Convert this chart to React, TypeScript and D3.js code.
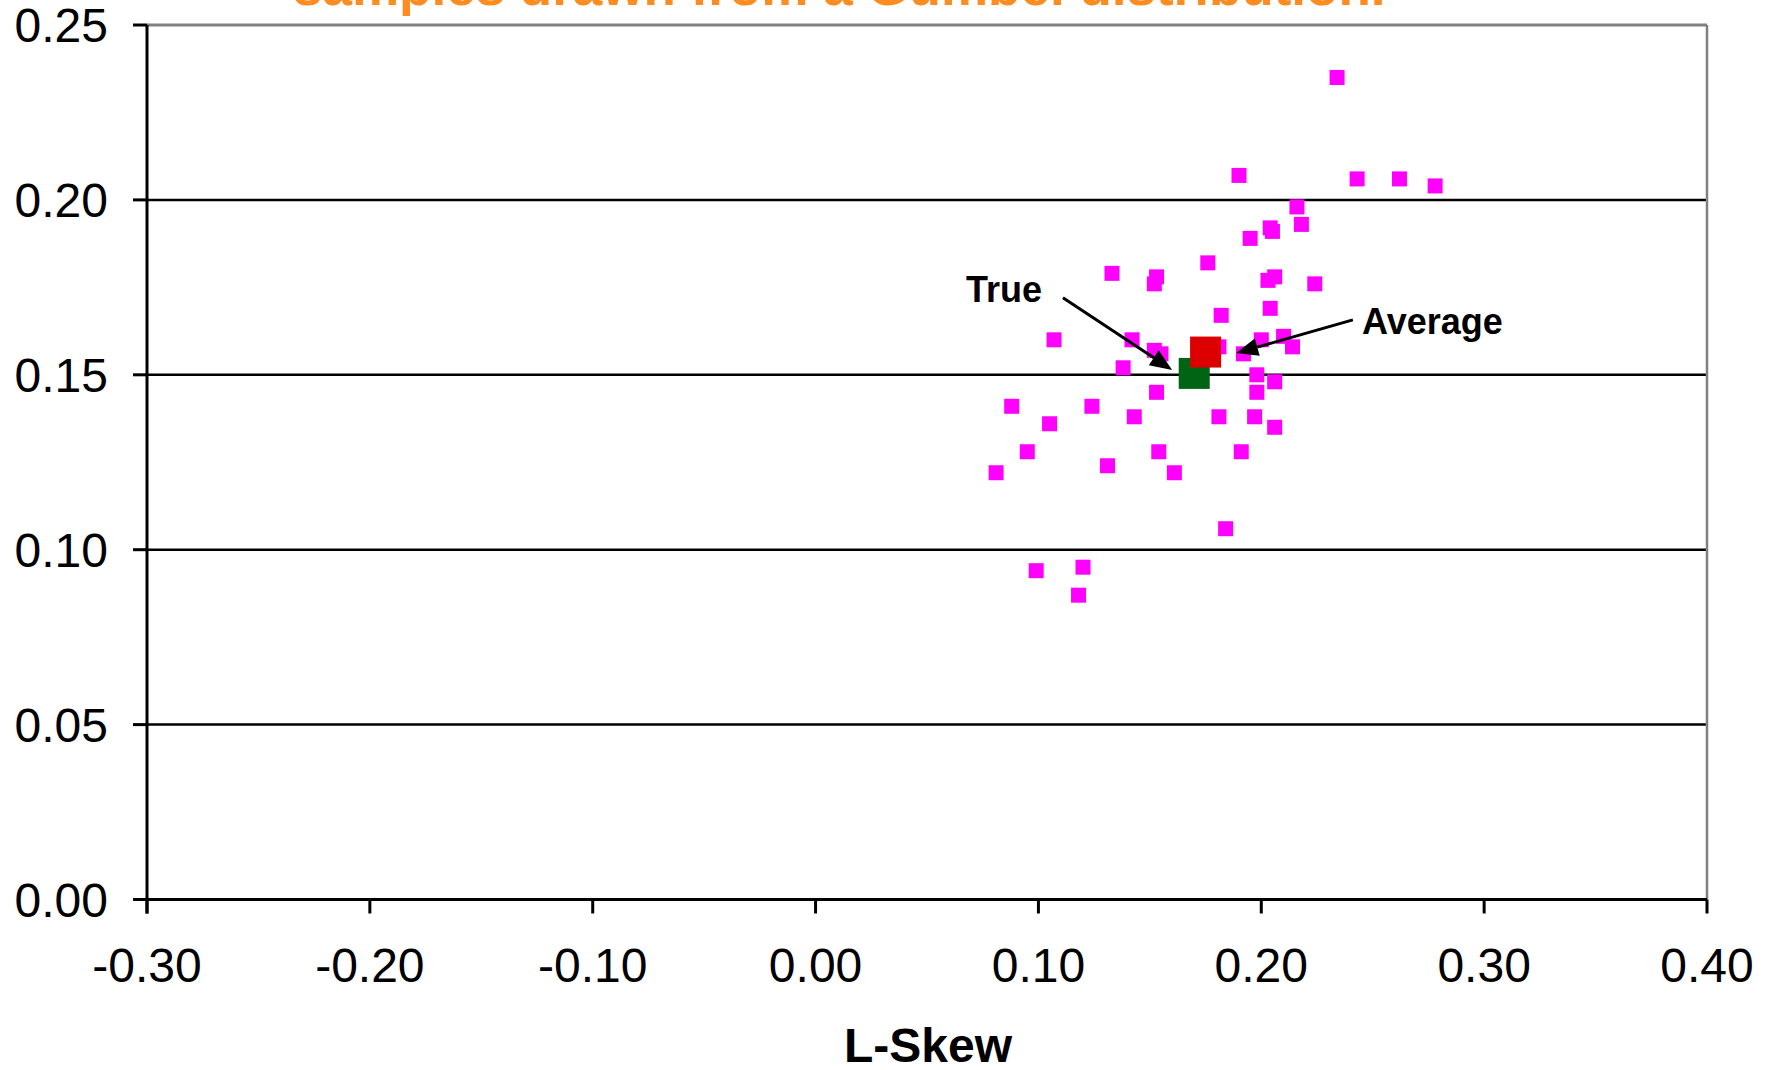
import React from "react";
import * as d3 from "d3";

const W = 1774;
const H = 1070;

const titleText = "samples drawn from a Gumbel distribution.";
const xLabel = "L-Skew";
const xTicks = [-0.3, -0.2, -0.1, 0.0, 0.1, 0.2, 0.3, 0.4];
const yTicks = [0.0, 0.05, 0.1, 0.15, 0.2, 0.25];

// sample L-skew values
const sampleSkew = [
  0.234, 0.190, 0.243, 0.262, 0.278, 0.216, 0.204, 0.205, 0.218, 0.195,
  0.176, 0.133, 0.153, 0.152, 0.203, 0.206, 0.224, 0.204, 0.182, 0.107,
  0.142, 0.200, 0.210, 0.214, 0.152, 0.155, 0.181, 0.192, 0.138, 0.198,
  0.206, 0.198, 0.153, 0.088, 0.124, 0.105, 0.143, 0.181, 0.197, 0.206,
  0.095, 0.154, 0.191, 0.131, 0.161, 0.081, 0.184, 0.099, 0.120, 0.118,
];
// sample L-kurtosis values
const sampleKurt = [
  0.235, 0.207, 0.206, 0.206, 0.204, 0.198, 0.192, 0.191, 0.193, 0.189,
  0.182, 0.179, 0.178, 0.176, 0.177, 0.178, 0.176, 0.169, 0.167, 0.160,
  0.160, 0.160, 0.161, 0.158, 0.157, 0.156, 0.158, 0.156, 0.152, 0.150,
  0.148, 0.145, 0.145, 0.141, 0.141, 0.136, 0.138, 0.138, 0.138, 0.135,
  0.128, 0.128, 0.128, 0.124, 0.122, 0.122, 0.106, 0.094, 0.095, 0.087,
];

const truePoint = [0.1699, 0.1504];
const avgPoint = [0.1750, 0.1565];

// annotations in data units: label anchor, arrow start, arrow tip
const annTrue = { label: "True", lx: 0.0846, ly: 0.1708, x1: 0.111, y1: 0.172, x2: 0.160, y2: 0.1514 };
const annAvg = { label: "Average", lx: 0.2452, ly: 0.1617, x1: 0.2411, y1: 0.1657, x2: 0.1887, y2: 0.1562 };

const left = 147;
const right = 1707;
const top = 25;
const bottom = 899.5;

function Arrow({ x1, y1, x2, y2 }: { x1: number; y1: number; x2: number; y2: number }) {
  const ang = Math.atan2(y2 - y1, x2 - x1);
  const len = 22;
  const half = 9;
  const bx = x2 - len * Math.cos(ang);
  const by = y2 - len * Math.sin(ang);
  const px = -Math.sin(ang) * half;
  const py = Math.cos(ang) * half;
  return (
    <g>
      <line x1={x1} y1={y1} x2={bx} y2={by} stroke="#000" strokeWidth={3} />
      <polygon points={`${x2},${y2} ${bx + px},${by + py} ${bx - px},${by - py}`} fill="#000" />
    </g>
  );
}

export default function App() {
  const x = d3.scaleLinear().domain([-0.3, 0.4]).range([left, right]);
  const y = d3.scaleLinear().domain([0, 0.25]).range([bottom, top]);
  const fmt = (v: number) => d3.format(".2f")(v).replace("\u2212", "-");
  const font = "'Liberation Sans', Arial, sans-serif";
  const ms = 15;
  const bs = 31;

  return (
    <svg width={W} height={H} style={{ position: "absolute", left: 0, top: 0, background: "#fff" }} fontFamily={font}>
      <rect x={0} y={0} width={W} height={H} fill="#fff" />
      {/* title */}
      <text x={293} y={5} fontSize={53} fontWeight="bold" fill="#FF8C21">{titleText}</text>

      {/* gridlines */}
      {yTicks.filter((t) => t > 0 && t < 0.25).map((t) => (
        <line key={t} x1={left} x2={right} y1={y(t)} y2={y(t)} stroke="#000" strokeWidth={2.5} />
      ))}
      {/* top and right border */}
      <line x1={left} x2={right} y1={y(0.25)} y2={y(0.25)} stroke="#808080" strokeWidth={3} />
      <line x1={right} x2={right} y1={top} y2={bottom} stroke="#808080" strokeWidth={2.5} />

      {/* axes */}
      <line x1={left} x2={right} y1={bottom} y2={bottom} stroke="#000" strokeWidth={3} />
      <line x1={left} x2={left} y1={top} y2={bottom + 14} stroke="#000" strokeWidth={3} />
      {yTicks.map((t) => (
        <g key={"y" + t}>
          <line x1={left - 14} x2={left} y1={y(t)} y2={y(t)} stroke="#000" strokeWidth={3} />
          <text x={108} y={y(t)} dy="0.355em" textAnchor="end" fontSize={48} fill="#000">{fmt(t)}</text>
        </g>
      ))}
      {xTicks.map((t) => (
        <g key={"x" + t}>
          <line x1={x(t)} x2={x(t)} y1={bottom} y2={bottom + 14} stroke="#000" strokeWidth={3} />
          <text x={x(t)} y={982} textAnchor="middle" fontSize={48} fill="#000">{fmt(t)}</text>
        </g>
      ))}
      <text x={928} y={1062} textAnchor="middle" fontSize={48} fontWeight="bold" fill="#000">{xLabel}</text>

      {/* samples */}
      {sampleSkew.map((s, i) => (
        <rect key={i} x={x(s) - ms / 2} y={y(sampleKurt[i]) - ms / 2} width={ms} height={ms} fill="#FF00FF" />
      ))}
      <rect x={x(truePoint[0]) - bs / 2} y={y(truePoint[1]) - bs / 2} width={bs} height={bs} fill="#006414" />
      <rect x={x(avgPoint[0]) - bs / 2} y={y(avgPoint[1]) - bs / 2} width={bs} height={bs} fill="#DD0000" />

      {/* annotations */}
      {[annTrue, annAvg].map((a) => (
        <g key={a.label}>
          <Arrow x1={x(a.x1)} y1={y(a.y1)} x2={x(a.x2)} y2={y(a.y2)} />
          <text x={x(a.lx)} y={y(a.ly)} textAnchor={a.label === "True" ? "middle" : "start"} fontSize={36} fontWeight="bold" fill="#000">{a.label}</text>
        </g>
      ))}
    </svg>
  );
}
